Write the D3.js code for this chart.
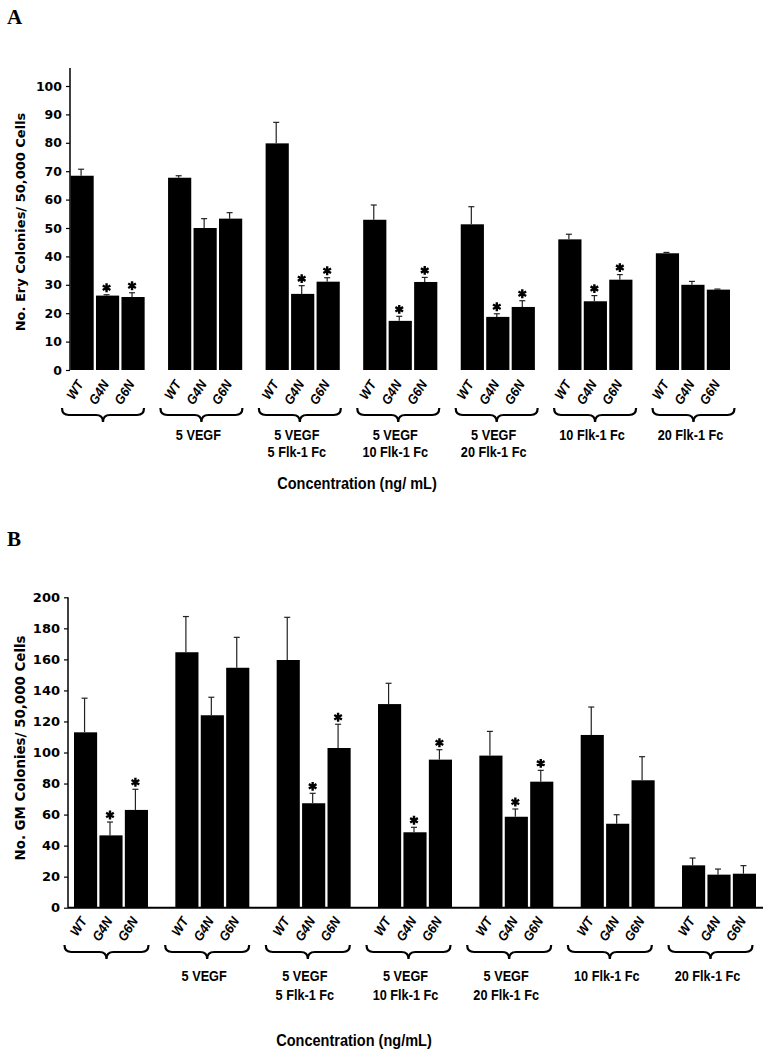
<!DOCTYPE html>
<html>
<head>
<meta charset="utf-8">
<script src="https://cdn.jsdelivr.net/npm/d3@7"></script>
<style>
  html, body { margin: 0; padding: 0; background: #fff; }
  svg { display: block; }
</style>
</head>
<body>
<div id="chart"></div>
<script>
// ---------------- DATA ----------------
const genotypes = ["WT", "G4N", "G6N"];
const groupNames = ["Control", "5 VEGF", "5 VEGF + 5 Flk-1 Fc", "5 VEGF + 10 Flk-1 Fc",
                    "5 VEGF + 20 Flk-1 Fc", "10 Flk-1 Fc", "20 Flk-1 Fc"];
const groupLabelLines = [[], ["5 VEGF"], ["5 VEGF", "5 Flk-1 Fc"], ["5 VEGF", "10 Flk-1 Fc"],
                         ["5 VEGF", "20 Flk-1 Fc"], ["10 Flk-1 Fc"], ["20 Flk-1 Fc"]];

// Panel A: Ery colonies
const eryWT      = [68.4, 67.7, 79.8, 52.9, 51.3, 46.0, 41.1];
const eryWTErr   = [2.3, 0.7, 7.4, 5.2, 6.2, 1.8, 0.3];
const eryG4N     = [26.2, 50.0, 26.8, 17.3, 18.7, 24.2, 30.0];
const eryG4NErr  = [0.3, 3.3, 2.9, 1.6, 1.1, 2.0, 1.2];
const eryG6N     = [25.7, 53.3, 31.1, 31.0, 22.2, 31.8, 28.3];
const eryG6NErr  = [1.5, 2.1, 1.4, 1.6, 2.2, 1.8, 0.2];
const eryStarG4N = [1, 0, 1, 1, 1, 1, 0];
const eryStarG6N = [1, 0, 1, 1, 1, 1, 0];
const eryTicks   = [0, 10, 20, 30, 40, 50, 60, 70, 80, 90, 100];

// Panel B: GM colonies
const gmWT      = [113.0, 164.6, 159.6, 131.2, 98.0, 111.3, 27.3];
const gmWTErr   = [22.0, 23.0, 27.5, 13.4, 15.6, 18.0, 4.7];
const gmG4N     = [46.6, 124.0, 67.3, 48.6, 58.6, 54.1, 21.3];
const gmG4NErr  = [8.6, 11.6, 6.4, 3.2, 5.0, 5.8, 3.6];
const gmG6N     = [63.0, 154.6, 102.9, 95.4, 81.2, 82.1, 21.9];
const gmG6NErr  = [13.3, 19.6, 15.3, 6.4, 7.3, 15.2, 5.2];
const gmStarG4N = [1, 0, 1, 1, 1, 0, 0];
const gmStarG6N = [1, 0, 1, 1, 1, 0, 0];
const gmTicks   = [0, 20, 40, 60, 80, 100, 120, 140, 160, 180, 200];

// ---------------- DRAW ----------------
const W = 771, H = 1050;
const svg = d3.select("#chart").append("svg")
  .attr("width", W).attr("height", H).attr("viewBox", `0 0 ${W} ${H}`);
svg.append("rect").attr("width", W).attr("height", H).attr("fill", "#fff");

const condensed = "'Liberation Sans', Arial, sans-serif";
const wide = "'DejaVu Sans', Verdana, sans-serif";

function buildRows(wt, wtE, g4, g4E, g6, g6E, s4, s6) {
  return groupNames.map((g, i) => ({
    group: g, lines: groupLabelLines[i],
    bars: [
      { geno: "WT",  v: wt[i], e: wtE[i], star: 0 },
      { geno: "G4N", v: g4[i], e: g4E[i], star: s4[i] },
      { geno: "G6N", v: g6[i], e: g6E[i], star: s6[i] }
    ]
  }));
}

function panel(cfg) {
  const g = svg.append("g");
  const rows = cfg.rows;

  const x = d3.scaleBand().domain(groupNames).range(cfg.xRange)
    .paddingInner(cfg.padInner).paddingOuter(0);
  const xi = d3.scaleBand().domain(genotypes).range([0, x.bandwidth()]).paddingInner(0.09);
  const y = d3.scaleLinear().domain([0, cfg.ticks[cfg.ticks.length - 1]]).range(cfg.yRange);
  const braceX = d3.scalePoint().domain(groupNames).range(cfg.braceRange);

  // panel letter
  g.append("text").attr("x", 7).attr("y", cfg.letterY)
    .attr("font-family", "'Liberation Serif', 'Times New Roman', serif")
    .attr("font-weight", "bold").attr("font-size", 21).text(cfg.letter);

  // bars
  const grp = g.selectAll("g.grp").data(rows).join("g")
    .attr("transform", d => `translate(${x(d.group)},0)`);
  const bar = grp.selectAll("g.bar").data(d => d.bars).join("g");
  bar.append("rect")
    .attr("x", d => xi(d.geno)).attr("width", xi.bandwidth())
    .attr("y", d => y(d.v)).attr("height", d => y(0) - y(d.v))
    .attr("fill", "#000");
  // error bars (upper only)
  bar.append("line")
    .attr("x1", d => xi(d.geno) + xi.bandwidth() / 2 - 1)
    .attr("x2", d => xi(d.geno) + xi.bandwidth() / 2 - 1)
    .attr("y1", d => y(d.v)).attr("y2", d => y(d.v + d.e))
    .attr("stroke", "#222").attr("stroke-width", 1.2);
  bar.append("line")
    .attr("x1", d => xi(d.geno) + xi.bandwidth() / 2 - 4)
    .attr("x2", d => xi(d.geno) + xi.bandwidth() / 2 + 2)
    .attr("y1", d => y(d.v + d.e)).attr("y2", d => y(d.v + d.e))
    .attr("stroke", "#222").attr("stroke-width", 1.2);
  // asterisks
  bar.filter(d => d.star).append("path")
    .attr("transform", d => `translate(${xi(d.geno) + xi.bandwidth() / 2 - 1},${y(d.v + d.e) - 7})`)
    .attr("d", d3.symbol(d3.symbolAsterisk, 55)())
    .attr("fill", "none").attr("stroke", "#000").attr("stroke-width", 2.4);

  // x axis line (panel B only)
  if (cfg.xAxisLine) {
    g.append("line").attr("x1", cfg.yAxisX).attr("x2", cfg.xAxisEnd)
      .attr("y1", y(0)).attr("y2", y(0))
      .attr("stroke", "#000").attr("stroke-width", 2);
  }

  // y axis
  const ax = g.append("g").attr("transform", `translate(${cfg.yAxisX},0)`)
    .call(d3.axisLeft(y).tickValues(cfg.ticks).tickSize(4).tickPadding(4).tickSizeOuter(0));
  ax.select(".domain").remove();
  ax.append("line").attr("x1", 0).attr("x2", 0)
    .attr("y1", y(0)).attr("y2", y(cfg.axisTop))
    .attr("stroke", "#000").attr("stroke-width", 1.5);
  ax.selectAll(".tick line").attr("stroke", "#000").attr("stroke-width", 1.2);
  ax.selectAll(".tick text").attr("font-family", wide).attr("font-weight", "bold")
    .attr("font-size", cfg.tickFont).attr("fill", "#000");

  // y title
  g.append("text")
    .attr("transform", `translate(21,${cfg.titleY}) rotate(-90)`)
    .attr("text-anchor", "middle").attr("dominant-baseline", "middle")
    .attr("font-family", wide).attr("font-weight", "bold").attr("font-size", cfg.titleFont)
    .text(cfg.title);

  // genotype labels
  grp.selectAll("text.geno").data(d => d.bars).join("text")
    .attr("transform", d => `translate(${xi(d.geno) + xi.bandwidth() / 2 + 2},${y(0) + cfg.labelDy}) rotate(-58) scale(0.92,1)`)
    .attr("text-anchor", "end")
    .attr("font-family", condensed).attr("font-weight", "bold").attr("font-style", "italic")
    .attr("font-size", 13.5).text(d => d.geno);

  // braces
  const bw = cfg.braceWidth, bt = cfg.braceTop, bh = 14;
  g.selectAll("path.brace").data(rows).join("path")
    .attr("d", d => {
      const c = braceX(d.group), x1 = c - bw / 2, x2 = c + bw / 2, m = bt + bh / 2, q = 7;
      return `M${x1},${bt} Q${x1},${m} ${x1 + q},${m} L${c - q},${m} Q${c},${m} ${c},${bt + bh}` +
             ` Q${c},${m} ${c + q},${m} L${x2 - q},${m} Q${x2},${m} ${x2},${bt}`;
    })
    .attr("fill", "none").attr("stroke", "#000").attr("stroke-width", 2.2);

  // group labels (condensed)
  const glg = g.selectAll("g.glab").data(rows).join("g")
    .attr("transform", d => `translate(${braceX(d.group) - 3},0) scale(0.82,1)`);
  glg.selectAll("text").data(d => d.lines).join("text")
    .attr("x", 0)
    .attr("y", (d, i) => cfg.groupLabelY + i * cfg.groupLineGap)
    .attr("text-anchor", "middle")
    .attr("font-family", condensed).attr("font-weight", "bold").attr("font-size", 15.5)
    .text(d => d);

  // x title
  g.append("text")
    .attr("transform", `translate(${cfg.xTitleX},${cfg.xTitleY}) scale(0.88,1)`)
    .attr("text-anchor", "middle")
    .attr("font-family", condensed).attr("font-weight", "bold").attr("font-size", 16.5)
    .text(cfg.xTitle);
}

panel({
  letter: "A", letterY: 24,
  rows: buildRows(eryWT, eryWTErr, eryG4N, eryG4NErr, eryG6N, eryG6NErr, eryStarG4N, eryStarG6N),
  ticks: eryTicks, axisTop: 106.3, yRange: [370, 86],
  xRange: [70.5, 730], padInner: 0.24, yAxisX: 70,
  tickFont: 12.5, titleFont: 13, titleY: 222,
  title: "No.  Ery Colonies/ 50,000 Cells",
  labelDy: 14, braceRange: [103, 693.5], braceWidth: 82, braceTop: 408,
  groupLabelY: 440, groupLineGap: 17,
  xTitle: "Concentration (ng/ mL)", xTitleX: 357, xTitleY: 489,
  xAxisLine: false
});

panel({
  letter: "B", letterY: 546,
  rows: buildRows(gmWT, gmWTErr, gmG4N, gmG4NErr, gmG6N, gmG6NErr, gmStarG4N, gmStarG6N),
  ticks: gmTicks, axisTop: 200, yRange: [907.7, 597.3],
  xRange: [74, 756], padInner: 0.27, yAxisX: 68, xAxisEnd: 763,
  tickFont: 13, titleFont: 13.4, titleY: 748,
  title: "No. GM Colonies/ 50,000 Cells",
  labelDy: 13, braceRange: [106.5, 710.5], braceWidth: 84, braceTop: 945,
  groupLabelY: 981, groupLineGap: 19.5,
  xTitle: "Concentration (ng/mL)", xTitleX: 354, xTitleY: 1046,
  xAxisLine: true
});
</script>
</body>
</html>
